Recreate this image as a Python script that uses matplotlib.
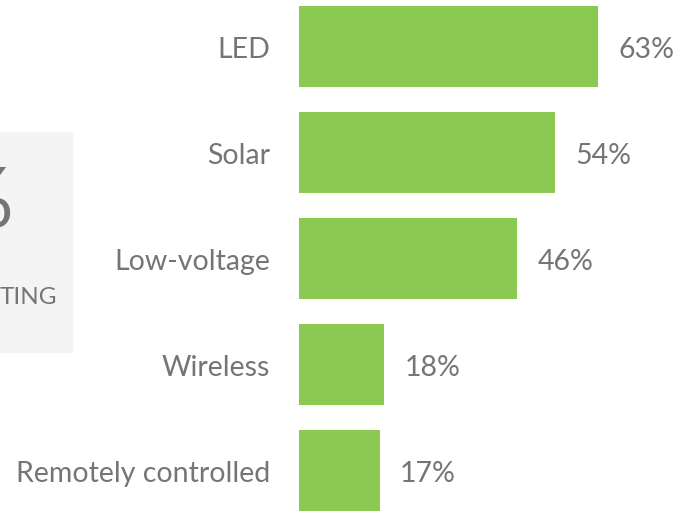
import matplotlib.pyplot as plt
from matplotlib.patches import Rectangle

categories = ['LED', 'Solar', 'Low-voltage', 'Wireless', 'Remotely controlled']
shares = [63, 54, 46, 18, 17]

W, H = 683, 511
fig = plt.figure(figsize=(W / 100, H / 100), dpi=100)
plt.rcParams['font.family'] = ['Lato', 'DejaVu Sans']

grey = '#757575'
green = '#8cc953'

# side panel, cut off by the left edge
fig.patches.append(Rectangle((0, 1 - 352 / H), 72 / W, 220 / H,
                             transform=fig.transFigure, color='#f4f4f4', zorder=0))
fig.text(13 / W, 1 - 204 / H, '%', ha='right', va='center', fontsize=60,
         color=grey)
fig.text(0, 1 - 297 / H, 'TING', ha='left', va='center', fontsize=17.5,
         color=grey)

ax = fig.add_axes([299 / W, 0, 1 - 299 / W, 1])
px = 299 / 63
ax.set_xlim(0, (W - 299) / px)
ax.set_ylim((H - 46.5) / 106, -46.5 / 106)
ypos = range(len(categories))
ax.barh(ypos, shares, height=81 / 106, color=green)
for y, v, c in zip(ypos, shares, categories):
    ax.text(v + 20 / px, y + 0.03, f'{v}%', va='center', ha='left', fontsize=20.5,
            color=grey)
    ax.text(-29 / px, y + 0.03, c, va='center', ha='right', fontsize=20.5,
            color=grey)
ax.axis('off')

fig.savefig('out.png', dpi=100)
